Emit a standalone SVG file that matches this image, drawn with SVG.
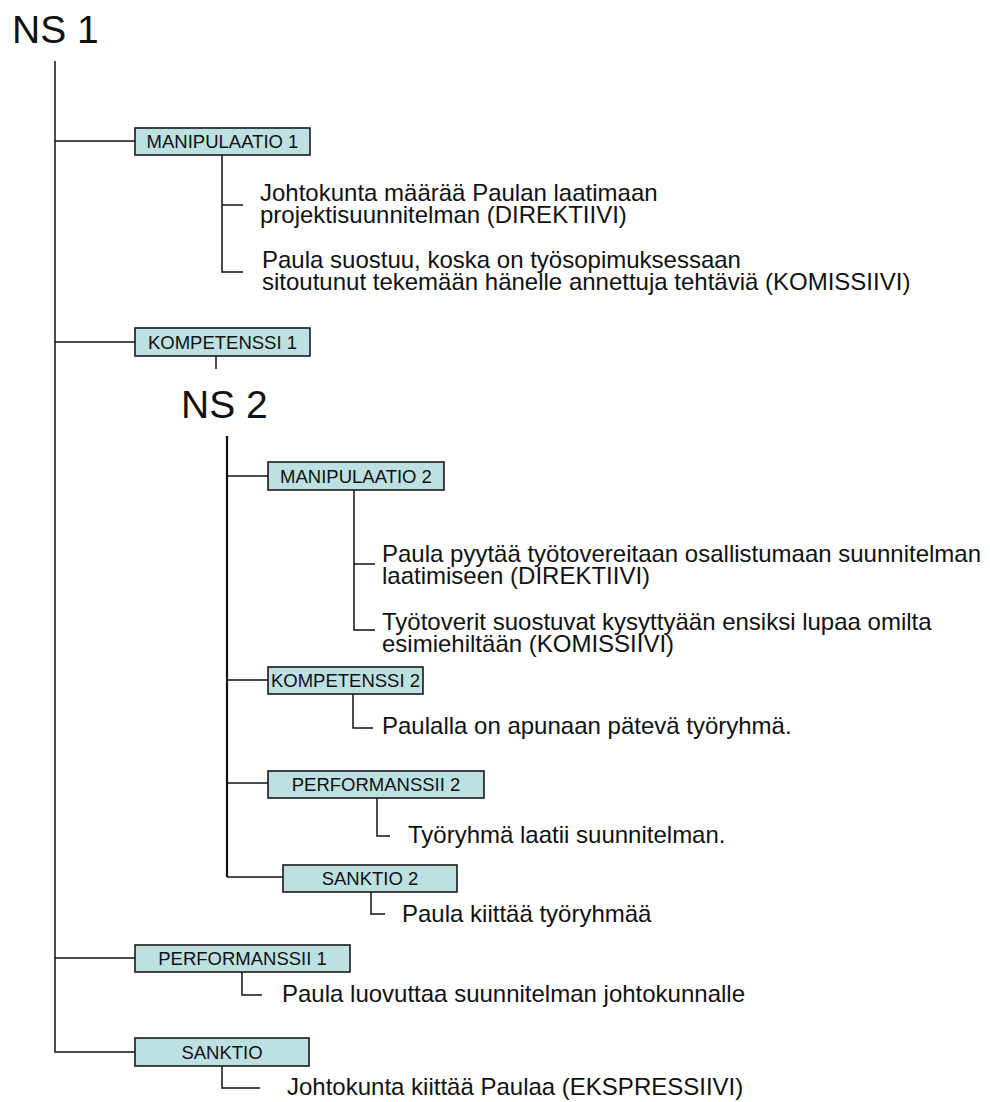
<svg xmlns="http://www.w3.org/2000/svg" width="990" height="1102" viewBox="0 0 990 1102">
  <style>
    .bg { fill: #ffffff; }
    .box { fill: #bde0e2; stroke: #1a1a1a; stroke-width: 1.6; }
    .lbl { font-family: "Liberation Sans", Arial, sans-serif; font-size: 18.5px; fill: #111; text-anchor: middle; }
    .txt { font-family: "Liberation Sans", Arial, sans-serif; font-size: 24px; fill: #111; }
    .head { font-family: "Liberation Sans", Arial, sans-serif; font-size: 39px; fill: #111; }
    .ln { fill: none; stroke: #111; stroke-width: 1.5; }
    .trunk { fill: none; stroke: #111; stroke-width: 2.2; }
  </style>
  <rect class="bg" x="0" y="0" width="990" height="1102"/>

  <!-- connectors -->
  <g id="connectors">
    <!-- NS 1 trunk and its branches -->
    <path class="ln" d="M55 61 V1052 H135"/>
    <path class="ln" d="M55 141 H135"/>
    <path class="ln" d="M55 342 H135"/>
    <path class="ln" d="M55 958 H135"/>
    <!-- MANIPULAATIO 1 items -->
    <path class="ln" d="M222 155 V272 H243 M222 205 H243"/>
    <!-- KOMPETENSSI 1 to NS 2 -->
    <path class="ln" d="M216 356 V369"/>
    <!-- NS 2 trunk and its branches -->
    <path class="trunk" d="M227 436 V877"/>
    <path class="ln" d="M227 476 H268"/>
    <path class="ln" d="M227 680 H268"/>
    <path class="ln" d="M227 783 H268"/>
    <path class="ln" d="M227 877 H283"/>
    <!-- MANIPULAATIO 2 items -->
    <path class="ln" d="M354 490 V630 H375 M354 564 H375"/>
    <!-- KOMPETENSSI 2 item -->
    <path class="ln" d="M353 694 V728 H373"/>
    <!-- PERFORMANSSII 2 item -->
    <path class="ln" d="M377 798 V836 H390"/>
    <!-- SANKTIO 2 item -->
    <path class="ln" d="M371 892 V914 H385"/>
    <!-- PERFORMANSSII 1 item -->
    <path class="ln" d="M242 972 V995 H262"/>
    <!-- SANKTIO item -->
    <path class="ln" d="M222 1066 V1088 H260"/>
  </g>

  <g id="ns1">
    <text class="head" x="12" y="43">NS 1</text>
  </g>

  <g id="manipulaatio1">
    <rect class="box" x="135" y="128" width="175" height="27"/>
    <text class="lbl" x="222.5" y="148">MANIPULAATIO 1</text>
  </g>
  <g id="m1-direktiivi">
    <text class="txt" x="260" y="201">Johtokunta määrää Paulan laatimaan</text>
    <text class="txt" x="260" y="223">projektisuunnitelman (DIREKTIIVI)</text>
  </g>
  <g id="m1-komissiivi">
    <text class="txt" x="262" y="268">Paula suostuu, koska on työsopimuksessaan</text>
    <text class="txt" x="262" y="290">sitoutunut tekemään hänelle annettuja tehtäviä (KOMISSIIVI)</text>
  </g>

  <g id="kompetenssi1">
    <rect class="box" x="135" y="328" width="175" height="28"/>
    <text class="lbl" x="222.5" y="349">KOMPETENSSI 1</text>
  </g>

  <g id="ns2">
    <text class="head" x="181" y="418">NS 2</text>
  </g>

  <g id="manipulaatio2">
    <rect class="box" x="268" y="462" width="176" height="28"/>
    <text class="lbl" x="356" y="483">MANIPULAATIO 2</text>
  </g>
  <g id="m2-direktiivi">
    <text class="txt" x="382" y="562">Paula pyytää työtovereitaan osallistumaan suunnitelman</text>
    <text class="txt" x="382" y="584">laatimiseen (DIREKTIIVI)</text>
  </g>
  <g id="m2-komissiivi">
    <text class="txt" x="382" y="630">Työtoverit suostuvat kysyttyään ensiksi lupaa omilta</text>
    <text class="txt" x="382" y="652">esimiehiltään (KOMISSIIVI)</text>
  </g>

  <g id="kompetenssi2">
    <rect class="box" x="268" y="667" width="155" height="27"/>
    <text class="lbl" x="345.5" y="687">KOMPETENSSI 2</text>
  </g>
  <g id="k2-item">
    <text class="txt" x="382" y="734">Paulalla on apunaan pätevä työryhmä.</text>
  </g>

  <g id="performanssii2">
    <rect class="box" x="268" y="771" width="216" height="27"/>
    <text class="lbl" x="376" y="791">PERFORMANSSII 2</text>
  </g>
  <g id="p2-item">
    <text class="txt" x="408" y="843">Työryhmä laatii suunnitelman.</text>
  </g>

  <g id="sanktio2">
    <rect class="box" x="283" y="865" width="174" height="27"/>
    <text class="lbl" x="370" y="885">SANKTIO 2</text>
  </g>
  <g id="s2-item">
    <text class="txt" x="402" y="922">Paula kiittää työryhmää</text>
  </g>

  <g id="performanssii1">
    <rect class="box" x="135" y="945" width="215" height="27"/>
    <text class="lbl" x="242.5" y="965">PERFORMANSSII 1</text>
  </g>
  <g id="p1-item">
    <text class="txt" x="282" y="1002">Paula luovuttaa suunnitelman johtokunnalle</text>
  </g>

  <g id="sanktio">
    <rect class="box" x="135" y="1038" width="174" height="28"/>
    <text class="lbl" x="222" y="1059">SANKTIO</text>
  </g>
  <g id="s-item">
    <text class="txt" x="287" y="1095">Johtokunta kiittää Paulaa (EKSPRESSIIVI)</text>
  </g>
</svg>
